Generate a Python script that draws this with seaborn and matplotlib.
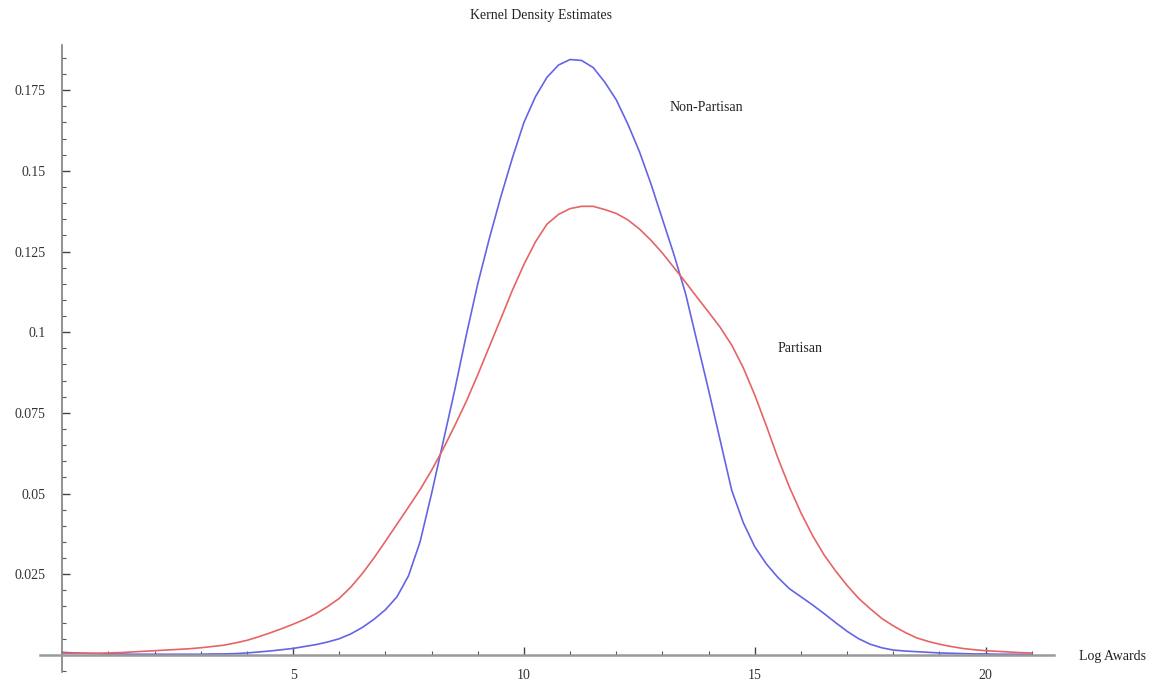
import matplotlib
matplotlib.use("Agg")
import matplotlib.pyplot as plt
import pandas as pd
import seaborn as sns
from matplotlib.ticker import MultipleLocator, FixedLocator

# 로그 보상액 격자와 밀도값
log_awards = [
    0.0, 0.25, 0.5, 0.75, 1.0, 1.25, 1.5, 1.75, 2.0, 2.25, 2.5, 2.75,
    3.0, 3.25, 3.5, 3.75, 4.0, 4.25, 4.5, 4.75, 5.0, 5.25, 5.5, 5.75,
    6.0, 6.25, 6.5, 6.75, 7.0, 7.25, 7.5, 7.75, 8.0, 8.25, 8.5, 8.75,
    9.0, 9.25, 9.5, 9.75, 10.0, 10.25, 10.5, 10.75, 11.0, 11.25, 11.5, 11.75,
    12.0, 12.25, 12.5, 12.75, 13.0, 13.25, 13.5, 13.75, 14.0, 14.25, 14.5, 14.75,
    15.0, 15.25, 15.5, 15.75, 16.0, 16.25, 16.5, 16.75, 17.0, 17.25, 17.5, 17.75,
    18.0, 18.25, 18.5, 18.75, 19.0, 19.25, 19.5, 19.75, 20.0, 20.25, 20.5, 20.75,
    21.0,
]

non_partisan = [
    0.0008, 0.0006, 0.0005, 0.0004, 0.0003, 0.0003, 0.0002, 0.0002, 0.0002, 0.0002, 0.0002, 0.0002,
    0.0002, 0.0003, 0.0003, 0.0004, 0.0006, 0.0009, 0.0012, 0.0016, 0.0020, 0.0026, 0.0032, 0.0040,
    0.0050, 0.0065, 0.0085, 0.0110, 0.0140, 0.0180, 0.0245, 0.0350, 0.0500, 0.0660, 0.0820, 0.0990,
    0.1150, 0.1290, 0.1420, 0.1540, 0.1650, 0.1730, 0.1790, 0.1828, 0.1845, 0.1842, 0.1820, 0.1775,
    0.1720, 0.1645, 0.1560, 0.1460, 0.1350, 0.1240, 0.1120, 0.0970, 0.0820, 0.0665, 0.0510, 0.0410,
    0.0335, 0.0282, 0.0240, 0.0205, 0.0180, 0.0155, 0.0128, 0.0100, 0.0073, 0.0050, 0.0033, 0.0022,
    0.0015, 0.0012, 0.0010, 0.0008, 0.0006, 0.0005, 0.0004, 0.0003, 0.0003, 0.0002, 0.0002, 0.0002,
    0.0002,
]

partisan = [
    0.0005, 0.0005, 0.0005, 0.0005, 0.0006, 0.0007, 0.0009, 0.0011, 0.0013, 0.0015, 0.0017, 0.0019,
    0.0022, 0.0026, 0.0030, 0.0037, 0.0045, 0.0056, 0.0068, 0.0081, 0.0095, 0.0110, 0.0128, 0.0150,
    0.0175, 0.0210, 0.0252, 0.0300, 0.0352, 0.0405, 0.0458, 0.0512, 0.0572, 0.0638, 0.0710, 0.0785,
    0.0868, 0.0955, 0.1042, 0.1130, 0.1210, 0.1280, 0.1335, 0.1365, 0.1383, 0.1390, 0.1390, 0.1380,
    0.1368, 0.1348, 0.1320, 0.1285, 0.1245, 0.1200, 0.1155, 0.1108, 0.1062, 0.1015, 0.0960, 0.0890,
    0.0805, 0.0710, 0.0610, 0.0520, 0.0440, 0.0370, 0.0310, 0.0260, 0.0215, 0.0175, 0.0143, 0.0113,
    0.0090, 0.0070, 0.0053, 0.0042, 0.0033, 0.0026, 0.0020, 0.0016, 0.0013, 0.0011, 0.0009, 0.0007,
    0.0006,
]

series_names = ["Non-Partisan", "Partisan"]
x_major_ticks = [5, 10, 15, 20]
y_major_ticks = [0.025, 0.05, 0.075, 0.1, 0.125, 0.15, 0.175]
y_tick_labels = ["0.025", "0.05", "0.075", "0.1", "0.125", "0.15", "0.175"]

df = pd.DataFrame({
    "LogAwards": log_awards * 2,
    "Density": non_partisan + partisan,
    "Group": [series_names[0]] * len(log_awards) + [series_names[1]] * len(log_awards),
})

sns.set_style("white")
plt.rcParams["font.family"] = ["Liberation Serif", "DejaVu Serif"]

fig = plt.figure(figsize=(11.64, 6.90), dpi=100)
ax = fig.add_axes([0.0344, 0.0261, 0.8711, 0.9087])

sns.lineplot(
    data=df, x="LogAwards", y="Density", hue="Group",
    palette={"Non-Partisan": "#6464e6", "Partisan": "#e66464"},
    linewidth=1.2, legend=False, ax=ax,
)

ax.set_xlim(-0.48, 21.48)
ax.set_ylim(-0.0053, 0.189)

# Mathematica 스타일 축: 원점 교차
for side in ["top", "right"]:
    ax.spines[side].set_visible(False)
ax.spines["left"].set_position(("data", 0))
ax.spines["bottom"].set_position(("data", 0))
ax.spines["left"].set_color("#808080")
ax.spines["bottom"].set_color("#9a9a9a")
ax.spines["left"].set_linewidth(1.2)
ax.spines["bottom"].set_linewidth(1.8)

ax.xaxis.set_major_locator(FixedLocator(x_major_ticks))
ax.xaxis.set_minor_locator(MultipleLocator(1))
ax.yaxis.set_major_locator(FixedLocator(y_major_ticks))
ax.yaxis.set_minor_locator(MultipleLocator(0.005))
ax.set_yticklabels(y_tick_labels)

ax.tick_params(axis="both", which="both", bottom=True, left=True,
               top=False, right=False)
ax.tick_params(axis="both", which="major", direction="in", length=6, width=1,
               color="#444444", labelsize=10, labelcolor="#333333")
ax.tick_params(axis="both", which="minor", direction="in", length=3, width=0.8,
               color="#555555")
ax.tick_params(axis="x", which="major", pad=10)
ax.tick_params(axis="y", which="major", pad=12)

ax.set_xlabel("")
ax.set_ylabel("")

ax.text(13.96, 0.1695, "Non-Partisan", ha="center", va="center", fontsize=10,
        color="#222222")
ax.text(15.97, 0.0948, "Partisan", ha="center", va="center", fontsize=10,
        color="#222222")
ax.text(22.03, -0.0006, "Log Awards", ha="left", va="center", fontsize=10,
        color="#222222", clip_on=False)
fig.text(0.465, 0.978, "Kernel Density Estimates", ha="center", va="center",
         fontsize=10, color="#222222")

fig.savefig("out.png", dpi=100)
plt.close(fig)
